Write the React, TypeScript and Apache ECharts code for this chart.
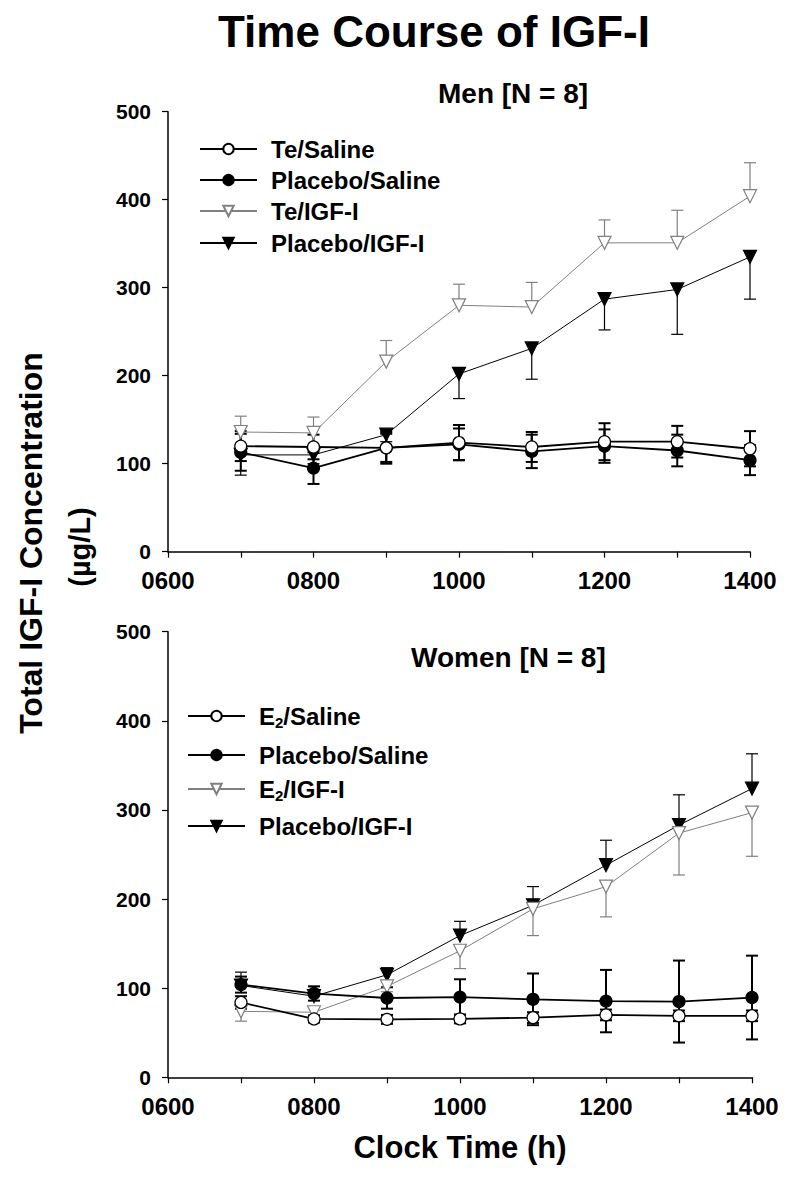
import React, { useEffect, useRef } from "react";
import * as echarts from "echarts";

// ---------- data ----------
const times = [700, 800, 900, 1000, 1100, 1200, 1300, 1400];

// Men [N = 8]
const menTeSaline = [120, 119, 118, 124, 119, 125, 125, 117];
const menTeSalineErr = [17, 14, 16, 20, 17, 21, 18, 20];
const menPlaceboSaline = [113, 95, 118, 122, 114, 120, 115, 104];
const menPlaceboSalineErr = [21, 18, 18, 18, 19, 19, 18, 17];
const menTeIgf = [136, 135, 216, 280, 278, 351, 351, 404];
const menTeIgfErr = [18, 18, 24, 24, 28, 26, 37, 38];
const menPlaceboIgf = [110, 110, 133, 202, 231, 287, 298, 335];
const menPlaceboIgfErr = [23, 10, 8, 28, 35, 35, 51, 48];

// Women [N = 8]
const womenE2Saline = [84, 65.5, 65, 65.5, 67, 70, 69, 69];
const womenE2SalineErr = [7, 4, 5, 5, 6, 6, 6, 6];
const womenPlaceboSaline = [104, 94, 89, 90, 87.5, 85.5, 85, 89.5];
const womenPlaceboSalineErr = [9, 8, 12, 20, 29, 35, 46, 47];
const womenE2Igf = [74, 73, 102, 142, 189, 214, 274, 297];
const womenE2IgfErr = [11, 4, 6, 20, 30, 34, 47, 49];
const womenPlaceboIgf = [103, 91, 115, 159, 193, 238, 283, 324];
const womenPlaceboIgfErr = [15, 11, 8, 16, 21, 28, 34, 39];

const menLegend = ["Te/Saline", "Placebo/Saline", "Te/IGF-I", "Placebo/IGF-I"];
const womenLegend = ["E2/Saline", "Placebo/Saline", "E2/IGF-I", "Placebo/IGF-I"];

const yTicks = { min: 0, max: 500, interval: 100 };
const xTicks = { min: 600, max: 1400, interval: 100 };

// ---------- style ----------
const FONT = '"Liberation Sans", Arial, Helvetica, sans-serif';
const BLACK = "#000";
const GRAY = "#808080";

type Spec = {
  name: string;
  values: number[];
  errs: number[];
  mode: "both" | "up" | "down";
  symbol: "circle" | "triangle";
  filled: boolean;
  color: string;
  width: number;
  errWidth: number;
};

function makeSeries(spec: Spec, gi: number) {
  const line = {
    type: "line",
    name: spec.name,
    xAxisIndex: gi,
    yAxisIndex: gi,
    data: times.map((t, i) => [t, spec.values[i]]),
    symbol: spec.symbol,
    symbolRotate: spec.symbol === "triangle" ? 180 : 0,
    symbolSize: spec.symbol === "circle" ? 12 : 13,
    showAllSymbol: true,
    lineStyle: { color: spec.color, width: spec.width },
    itemStyle: {
      color: spec.filled ? spec.color : "#fff",
      borderColor: spec.color,
      borderWidth: 1.2,
    },
    emphasis: { disabled: true },
    z: 3,
  };
  const errData = times.map((t, i) => {
    const v = spec.values[i];
    const e = spec.errs[i];
    const lo = spec.mode === "up" ? v : v - e;
    const hi = spec.mode === "down" ? v : v + e;
    return [t, lo, hi, v];
  });
  const color = spec.color;
  const w = spec.errWidth;
  const err = {
    type: "custom",
    name: spec.name + " SEM",
    xAxisIndex: gi,
    yAxisIndex: gi,
    data: errData,
    encode: { x: 0, y: [1, 2] },
    silent: true,
    z: 2,
    renderItem: (params: any, api: any) => {
      const x = api.value(0);
      const lo = api.value(1);
      const hi = api.value(2);
      const v = api.value(3);
      const pLo = api.coord([x, lo]);
      const pHi = api.coord([x, hi]);
      const st = { stroke: color, lineWidth: w };
      const children: any[] = [
        { type: "line", shape: { x1: pLo[0], y1: pLo[1], x2: pHi[0], y2: pHi[1] }, style: st },
      ];
      const cw = 6;
      if (lo < v)
        children.push({ type: "line", shape: { x1: pLo[0] - cw, y1: pLo[1], x2: pLo[0] + cw, y2: pLo[1] }, style: st });
      if (hi > v)
        children.push({ type: "line", shape: { x1: pHi[0] - cw, y1: pHi[1], x2: pHi[0] + cw, y2: pHi[1] }, style: st });
      return { type: "group", children };
    },
  };
  return [err, line];
}

const menSpecs: Spec[] = [
  { name: menLegend[3], values: menPlaceboIgf, errs: menPlaceboIgfErr, mode: "down", symbol: "triangle", filled: true, color: BLACK, width: 1, errWidth: 1.2 },
  { name: menLegend[2], values: menTeIgf, errs: menTeIgfErr, mode: "up", symbol: "triangle", filled: false, color: GRAY, width: 1, errWidth: 1.2 },
  { name: menLegend[1], values: menPlaceboSaline, errs: menPlaceboSalineErr, mode: "both", symbol: "circle", filled: true, color: BLACK, width: 1.8, errWidth: 2 },
  { name: menLegend[0], values: menTeSaline, errs: menTeSalineErr, mode: "both", symbol: "circle", filled: false, color: BLACK, width: 1.8, errWidth: 2 },
];

const womenSpecs: Spec[] = [
  { name: womenLegend[3], values: womenPlaceboIgf, errs: womenPlaceboIgfErr, mode: "up", symbol: "triangle", filled: true, color: BLACK, width: 1, errWidth: 1.2 },
  { name: womenLegend[2], values: womenE2Igf, errs: womenE2IgfErr, mode: "down", symbol: "triangle", filled: false, color: GRAY, width: 1, errWidth: 1.2 },
  { name: womenLegend[1], values: womenPlaceboSaline, errs: womenPlaceboSalineErr, mode: "both", symbol: "circle", filled: true, color: BLACK, width: 1.8, errWidth: 2 },
  { name: womenLegend[0], values: womenE2Saline, errs: womenE2SalineErr, mode: "both", symbol: "circle", filled: false, color: BLACK, width: 1.8, errWidth: 2 },
];

function xAxis(gi: number) {
  return {
    type: "value",
    gridIndex: gi,
    ...xTicks,
    splitLine: { show: false },
    axisLine: { lineStyle: { color: BLACK, width: 1.5 } },
    axisTick: { show: true, length: 6, lineStyle: { color: BLACK, width: 1.2 } },
    axisLabel: {
      color: BLACK,
      fontFamily: FONT,
      fontWeight: "bold",
      fontSize: 24,
      margin: 17,
      formatter: (v: number) => (v % 200 === 0 ? String(v).padStart(4, "0") : ""),
    },
  };
}

function yAxis(gi: number) {
  return {
    type: "value",
    gridIndex: gi,
    ...yTicks,
    splitLine: { show: false },
    axisLine: { show: true, lineStyle: { color: BLACK, width: 1.5 } },
    axisTick: { show: true, length: 6, lineStyle: { color: BLACK, width: 1.2 } },
    axisLabel: { color: BLACK, fontFamily: FONT, fontWeight: "bold", fontSize: 21, margin: 17 },
  };
}

function legendItem(name: string, left: number, centerY: number) {
  return {
    data: [name],
    left,
    top: centerY - 13,
    padding: 0,
    itemWidth: 57,
    itemHeight: 13,
    selectedMode: false,
    textStyle: {
      color: BLACK,
      fontFamily: FONT,
      fontWeight: "bold",
      fontSize: 24,
      padding: [0, 0, 0, 9],
      rich: {
        b: { fontFamily: FONT, fontWeight: "bold", fontSize: 24, color: BLACK },
        sub: { fontFamily: FONT, fontWeight: "bold", fontSize: 15, color: BLACK, padding: [12, 0, 0, 0] },
      },
    },
    formatter: (n: string) => (n.startsWith("E2") ? "{b|E}{sub|2}{b|" + n.slice(2) + "}" : n),
  };
}

const menLegendY = [150, 181, 212, 244];
const womenLegendY = [717, 756, 790, 827];

export default function App() {
  const ref = useRef<HTMLDivElement>(null);
  useEffect(() => {
    if (!ref.current) return;
    const chart = echarts.init(ref.current, undefined, { renderer: "svg" });
    const series: any[] = [];
    menSpecs.forEach((s) => series.push(...makeSeries(s, 0)));
    womenSpecs.forEach((s) => series.push(...makeSeries(s, 1)));

    const legends = [
      ...menLegend.map((n, i) => legendItem(n, 199, menLegendY[i])),
      ...womenLegend.map((n, i) => legendItem(n, 187, womenLegendY[i])),
    ];

    chart.setOption({
      animation: false,
      backgroundColor: "#fff",
      textStyle: { fontFamily: FONT },
      grid: [
        { left: 168, right: 50, top: 111.7, height: 440 },
        { left: 168, right: 48, top: 631.7, height: 445.6 },
      ],
      xAxis: [xAxis(0), xAxis(1)],
      yAxis: [yAxis(0), yAxis(1)],
      legend: legends,
      series,
      graphic: [
        { type: "text", x: 218, y: 31, style: { text: "Time Course of IGF-I", fontFamily: FONT, fontWeight: "bold", fontSize: 44, fill: BLACK, verticalAlign: "middle" } },
        { type: "text", x: 438, y: 93, style: { text: "Men [N = 8]", fontFamily: FONT, fontWeight: "bold", fontSize: 28, fill: BLACK, verticalAlign: "middle" } },
        { type: "text", x: 411, y: 657, style: { text: "Women [N = 8]", fontFamily: FONT, fontWeight: "bold", fontSize: 28, fill: BLACK, verticalAlign: "middle" } },
        { type: "text", x: 460, y: 1147, style: { text: "Clock Time (h)", fontFamily: FONT, fontWeight: "bold", fontSize: 31, fill: BLACK, align: "center", verticalAlign: "middle" } },
        { type: "text", x: 31, y: 543, rotation: Math.PI / 2, style: { text: "Total IGF-I Concentration", fontFamily: FONT, fontWeight: "bold", fontSize: 32, fill: BLACK, align: "center", verticalAlign: "middle" } },
        { type: "text", x: 80, y: 547, rotation: Math.PI / 2, style: { text: "(µg/L)", fontFamily: FONT, fontWeight: "bold", fontSize: 29, fill: BLACK, align: "center", verticalAlign: "middle" } },
      ],
    });
    return () => chart.dispose();
  }, []);
  return (
    <div
      ref={ref}
      style={{ position: "absolute", left: 0, top: 0, width: 800, height: 1181, background: "#fff" }}
    />
  );
}
